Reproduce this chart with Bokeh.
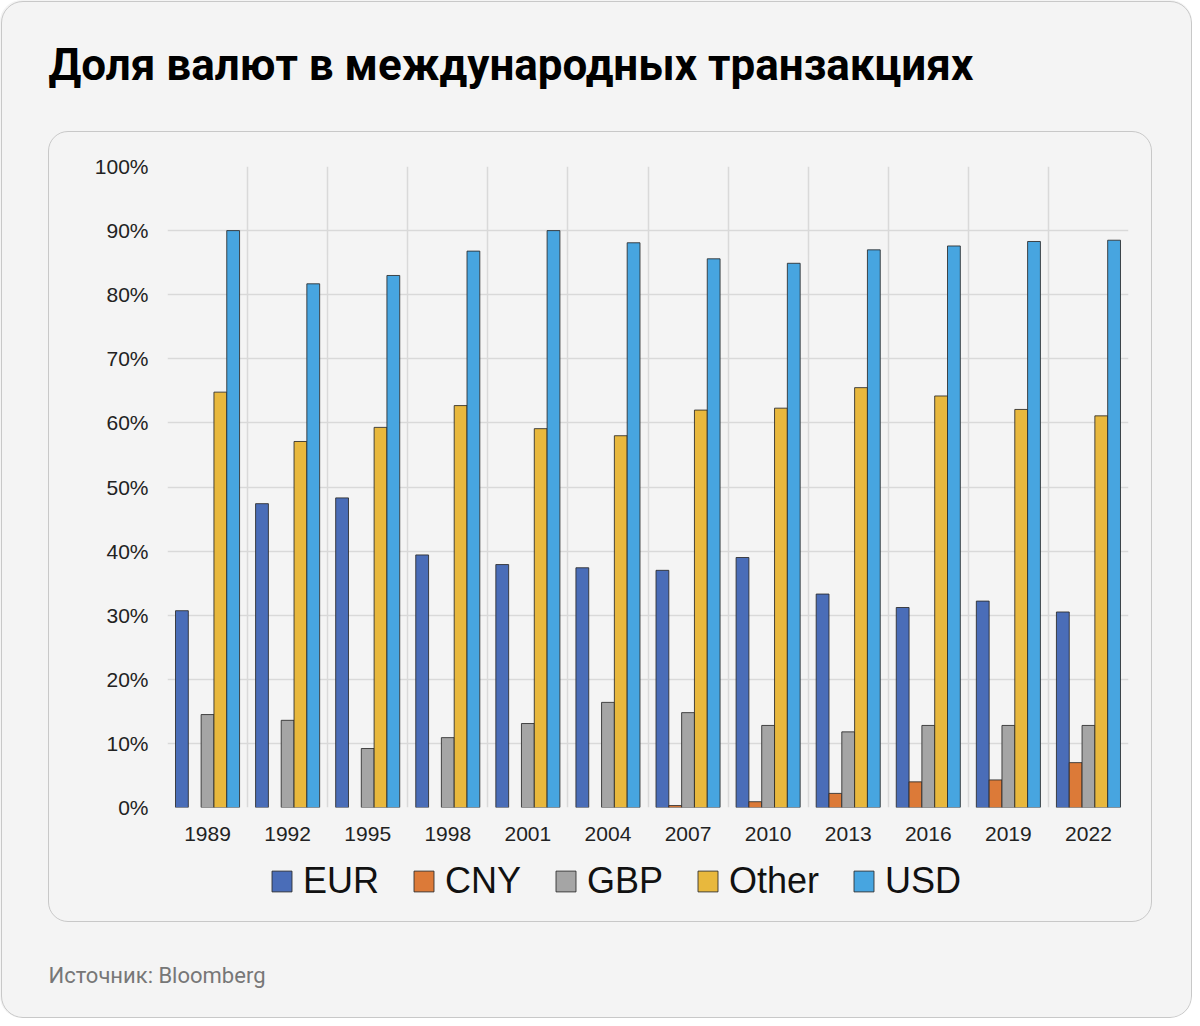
from bokeh.plotting import figure
from bokeh.layouts import column
from bokeh.models import (Legend, LegendItem, FixedTicker, InlineStyleSheet,
                          PrintfTickFormatter, Range1d, ColumnDataSource)
from bokeh.transform import dodge
from bokeh.embed import file_html
from bokeh.resources import INLINE

# ---------------- data ----------------
years = ["1989", "1992", "1995", "1998", "2001", "2004", "2007", "2010", "2013", "2016", "2019", "2022"]
eur = [30.7, 47.4, 48.3, 39.4, 37.9, 37.4, 37.0, 39.0, 33.3, 31.2, 32.2, 30.5]
cny = [0.0, 0.0, 0.0, 0.0, 0.0, 0.0, 0.3, 0.9, 2.2, 4.0, 4.3, 7.0]
gbp = [14.5, 13.6, 9.2, 10.9, 13.1, 16.4, 14.8, 12.8, 11.8, 12.8, 12.8, 12.8]
other = [64.8, 57.1, 59.3, 62.7, 59.1, 58.0, 62.0, 62.3, 65.5, 64.2, 62.1, 61.1]
usd = [90.0, 81.7, 83.0, 86.8, 90.0, 88.1, 85.6, 84.9, 87.0, 87.6, 88.3, 88.5]
series_names = ["EUR", "CNY", "GBP", "Other", "USD"]
y_ticks = [0, 10, 20, 30, 40, 50, 60, 70, 80, 90, 100]

title_text = "Доля валют в международных транзакциях"
source_text = "Источник: Bloomberg"

# ---------------- style ----------------
colors = ["#4a6db8", "#dc7a38", "#a5a5a5", "#e8b83d", "#47a5e0"]
offsets = [-0.32, -0.16, 0.0, 0.16, 0.32]
BG = "#f4f4f4"
LINE = "#2a2a2a"

W = 1192
ML, MR = 167, 1192 - 1128              # left / right borders (frames aligned)
H0, H1, H2, H3 = 131, 717, 86, 84      # stacked parts: title, chart, legend, source

n = len(years)
src = ColumnDataSource(dict(
    idx=[i + 0.5 for i in range(n)],
    EUR=eur,
    CNY=[v if v > 0 else float("nan") for v in cny],
    GBP=gbp,
    Other=other,
    USD=usd,
))

css = InlineStyleSheet(css="""
:host { position: relative; border-radius: 22px; overflow: hidden; background: #f4f4f4; }
:host::before {
  content: ""; position: absolute; z-index: 5; pointer-events: none;
  left: 1px; top: 1px; right: 0px; bottom: 0px;
  border: 1px solid #c8c8c8; border-radius: 22px;
}
:host::after {
  content: ""; position: absolute; z-index: 5; pointer-events: none;
  left: 48px; top: 131px; width: 1102px; height: 789px;
  border: 1px solid #c8c8c8; border-radius: 20px;
}
""")


def blank(h, top, bottom):
    f = figure(width=W, height=h, output_backend="svg", toolbar_location=None,
               x_range=Range1d(0, n), y_range=Range1d(0, 1),
               x_axis_type=None, y_axis_type=None,
               min_border_left=ML, min_border_right=MR,
               min_border_top=top, min_border_bottom=bottom)
    f.background_fill_color = BG
    f.border_fill_color = BG
    f.outline_line_color = None
    return f


# ---------------- title part ----------------
p0 = blank(H0, 115, 0)
p0.title.text = title_text
p0.title.text_font = "Roboto"
p0.title.text_font_style = "bold"
p0.title.text_font_size = "44px"
p0.title.text_color = "#000000"
p0.title.align = "left"
p0.title.offset = 48 - ML
p0.title.standoff = 50

# ---------------- chart part ----------------
p = figure(width=W, height=H1, output_backend="svg", toolbar_location=None,
           x_range=Range1d(0, n), y_range=Range1d(0, 100),
           min_border_left=ML, min_border_right=MR,
           min_border_top=166 - H0, min_border_bottom=H0 + H1 - 807)
p.background_fill_color = BG
p.border_fill_color = BG
p.outline_line_color = None

for name, col, off in zip(series_names, colors, offsets):
    p.vbar(x=dodge("idx", off, range=p.x_range), top=name, width=0.16, bottom=0,
           source=src, fill_color=col, line_color=LINE, line_width=1, line_alpha=0.85)

p.xaxis.ticker = FixedTicker(ticks=[i + 0.5 for i in range(n)])
p.xaxis.major_label_overrides = {i + 0.5: y for i, y in enumerate(years)}
p.yaxis.ticker = FixedTicker(ticks=y_ticks)
p.yaxis.formatter = PrintfTickFormatter(format="%d%%")
for ax in (p.xaxis[0], p.yaxis[0]):
    ax.axis_line_color = None
    ax.major_tick_line_color = None
    ax.minor_tick_line_color = None
    ax.major_tick_out = 0
    ax.major_tick_in = 0
    ax.major_label_text_font = "Liberation Sans"
    ax.major_label_text_font_size = "21px"
    ax.major_label_text_color = "#222222"
p.yaxis.major_label_standoff = 19
p.xaxis.major_label_standoff = 19

p.xgrid.ticker = FixedTicker(ticks=list(range(n + 1)))
p.xgrid.grid_line_color = "#d9d9d9"
p.xgrid.grid_line_width = 1.5
p.ygrid.grid_line_color = "#d9d9d9"
p.ygrid.grid_line_width = 1.5

# ---------------- legend part ----------------
# same series drawn again on a y range that keeps them out of view; only the legend shows
p2 = blank(H2, 0, 0)
p2.y_range = Range1d(1000, 1100)
swatches = []
for name, col, off in zip(series_names, colors, offsets):
    r = p2.vbar(x=dodge("idx", off, range=p2.x_range), top=name, width=0.16, bottom=0,
                source=src, fill_color=col, line_color=LINE, line_width=1, line_alpha=0.85)
    swatches.append(r)

legend_h = 42
legend_cy = 881 - (H0 + H1)
legend = Legend(items=[LegendItem(label=nm, renderers=[r]) for nm, r in zip(series_names, swatches)],
                orientation="horizontal", location=(269 - ML, H2 - legend_cy - legend_h / 2),
                label_text_font="Liberation Sans", label_text_font_size="36px",
                label_text_color="#111111",
                glyph_width=25, glyph_height=26, label_standoff=9, spacing=32,
                padding=0, margin=0, border_line_alpha=0, background_fill_alpha=0)
p2.add_layout(legend, "center")

# ---------------- source part ----------------
p3 = blank(H3, 76, 0)
p3.title.text = source_text
p3.title.text_font = "Roboto"
p3.title.text_font_style = "normal"
p3.title.text_font_size = "22px"
p3.title.text_color = "#777777"
p3.title.align = "left"
p3.title.offset = 48 - ML
p3.title.standoff = 46

layout = column(p0, p, p2, p3, spacing=0, stylesheets=[css])

open("out.html", "w").write(file_html(layout, INLINE))
